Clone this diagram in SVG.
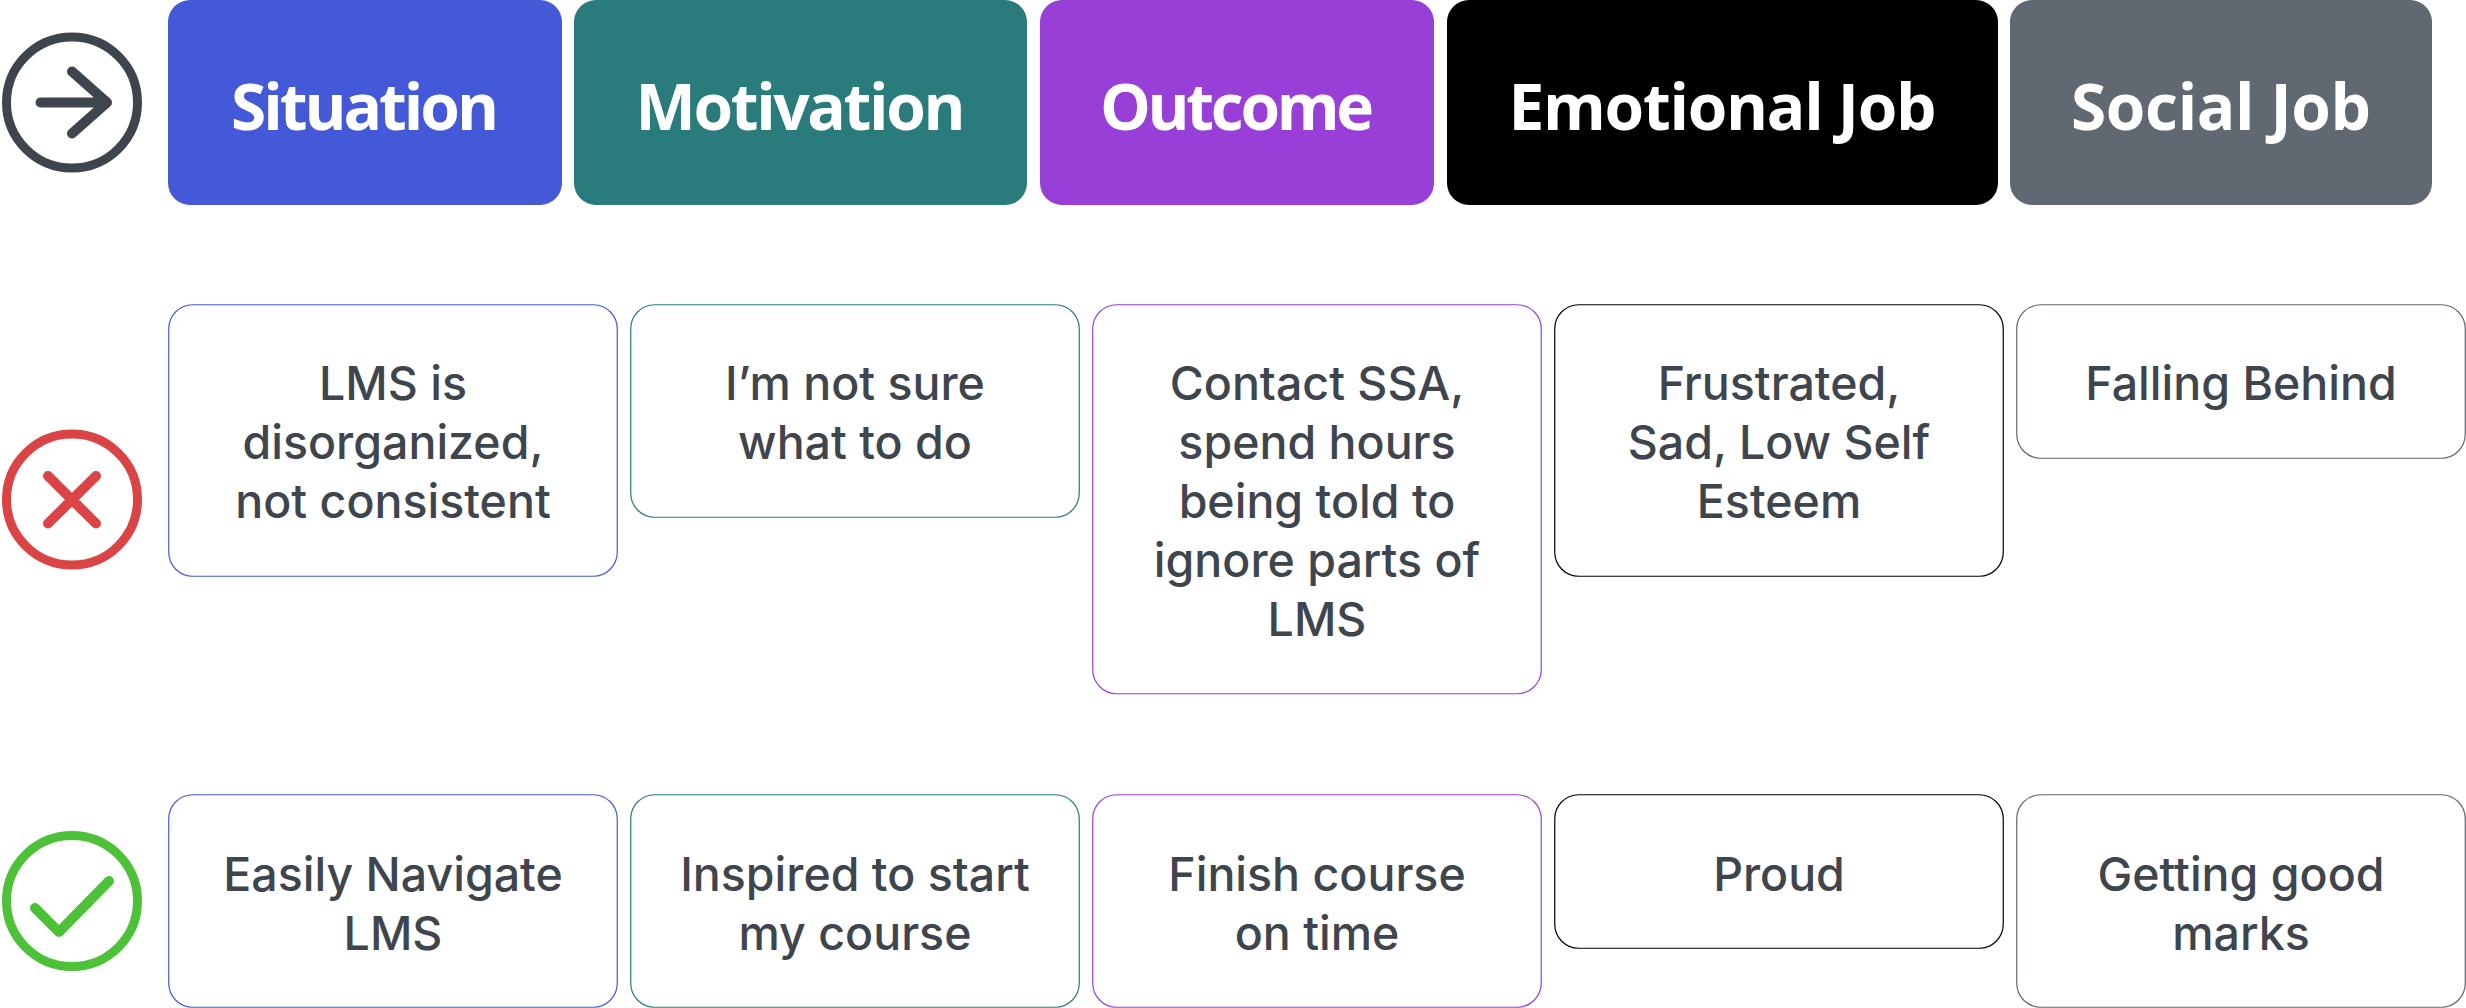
<svg xmlns="http://www.w3.org/2000/svg" width="2466" height="1008" viewBox="0 0 2466 1008">
<style>
.h{font-family:"Open Sans","Noto Sans",sans-serif;font-weight:700;font-size:64px;fill:#fff;text-anchor:middle}
.t{font-family:Inter,"Liberation Sans",Arial,sans-serif;font-weight:500;font-size:46.500px;fill:#3e454d;text-anchor:middle}
.c{fill:#fff;stroke-width:1.2}
.i{fill:none;stroke-width:9;stroke-linecap:round;stroke-linejoin:round}
.p{stroke-width:10}
</style>
<rect width="2466" height="1008" fill="#fff"/>
<g id="icon-arrow" class="i" stroke="#3e454d"><circle cx="72" cy="102.5" r="65.5"/><path class="p" d="M40.500 102.500H107M72 71.500L107 102.500L72 133.500"/></g>
<g id="icon-cross" class="i" stroke="#db4444"><circle cx="72" cy="499.500" r="65.500"/><path class="p" d="M48 476L96 523.500M96 476L48 523.500"/></g>
<g id="icon-check" class="i" stroke="#4dc137"><circle cx="72" cy="901" r="65.500"/><path class="p" d="M35 908L59 932L109 881"/></g>
<g id="h1"><rect x="168" y="0" width="394" height="205" rx="22" fill="#4459d8"/><text class="h" x="365" y="129.500" textLength="268">Situation</text></g>
<g id="h2"><rect x="574" y="0" width="453" height="205" rx="22" fill="#2a7b7c"/><text class="h" x="800.500" y="129.500" textLength="330">Motivation</text></g>
<g id="h3"><rect x="1040" y="0" width="394" height="205" rx="22" fill="#983fd8"/><text class="h" x="1237" y="129.500" textLength="274">Outcome</text></g>
<g id="h4"><rect x="1447" y="0" width="551" height="205" rx="22" fill="#000"/><text class="h" x="1722.500" y="129.500" textLength="428">Emotional Job</text></g>
<g id="h5"><rect x="2010" y="0" width="422" height="205" rx="22" fill="#606871"/><text class="h" x="2221" y="129.500" textLength="300">Social Job</text></g>
<g id="a1"><rect class="c" x="168.750" y="304.750" width="448.500" height="271.500" rx="24" stroke="#4459d8"/><text class="t" x="393" y="400">LMS is</text><text class="t" x="393" y="459">disorganized,</text><text class="t" x="393" y="518">not consistent</text></g>
<g id="a2"><rect class="c" x="630.750" y="304.750" width="448.500" height="212.500" rx="24" stroke="#2a7b7c"/><text class="t" x="855" y="400">I’m not sure</text><text class="t" x="855" y="459">what to do</text></g>
<g id="a3"><rect class="c" x="1092.750" y="304.750" width="448.500" height="389" rx="24" stroke="#983fd8"/><text class="t" x="1317" y="400">Contact SSA,</text><text class="t" x="1317" y="459">spend hours</text><text class="t" x="1317" y="518">being told to</text><text class="t" x="1317" y="577">ignore parts of</text><text class="t" x="1317" y="636">LMS</text></g>
<g id="a4"><rect class="c" x="1554.750" y="304.750" width="448.500" height="271.500" rx="24" stroke="#000"/><text class="t" x="1779" y="400">Frustrated,</text><text class="t" x="1779" y="459">Sad, Low Self</text><text class="t" x="1779" y="518">Esteem</text></g>
<g id="a5"><rect class="c" x="2016.750" y="304.750" width="448.500" height="153.500" rx="24" stroke="#606871"/><text class="t" x="2241" y="400">Falling Behind</text></g>
<g id="b1"><rect class="c" x="168.750" y="794.750" width="448.500" height="212.500" rx="24" stroke="#4459d8"/><text class="t" x="393" y="890.500">Easily Navigate</text><text class="t" x="393" y="949.500">LMS</text></g>
<g id="b2"><rect class="c" x="630.750" y="794.750" width="448.500" height="212.500" rx="24" stroke="#2a7b7c"/><text class="t" x="855" y="890.500">Inspired to start</text><text class="t" x="855" y="949.500">my course</text></g>
<g id="b3"><rect class="c" x="1092.750" y="794.750" width="448.500" height="212.500" rx="24" stroke="#983fd8"/><text class="t" x="1317" y="890.500">Finish course</text><text class="t" x="1317" y="949.500">on time</text></g>
<g id="b4"><rect class="c" x="1554.750" y="794.750" width="448.500" height="153.500" rx="24" stroke="#000"/><text class="t" x="1779" y="890.500">Proud</text></g>
<g id="b5"><rect class="c" x="2016.750" y="794.750" width="448.500" height="212.500" rx="24" stroke="#606871"/><text class="t" x="2241" y="890.500">Getting good</text><text class="t" x="2241" y="949.500">marks</text></g>
<g id="connectors"></g>
</svg>
